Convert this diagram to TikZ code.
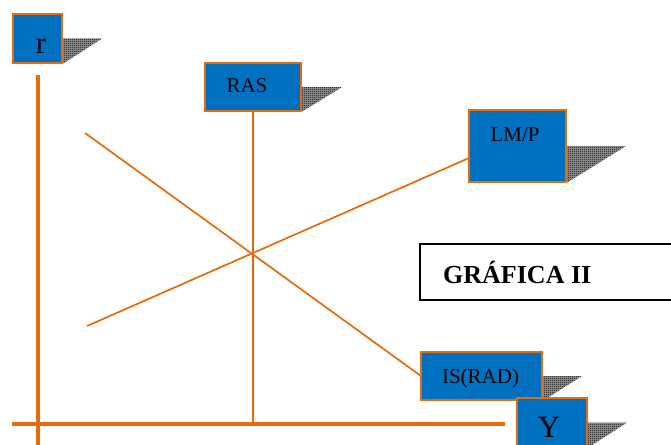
\documentclass[tikz,border=0pt]{standalone}
\usepackage{fontspec}
\setmainfont{Liberation Serif}
\usetikzlibrary{patterns,calc}

% fine two-pixel checkerboard used for the box shadows
\pgfdeclarepatternformonly{tinycheck}{\pgfpointorigin}{\pgfpoint{2pt}{2pt}}{\pgfpoint{2pt}{2pt}}{%
  \pgfpathrectangle{\pgfpointorigin}{\pgfpoint{1pt}{1pt}}%
  \pgfpathrectangle{\pgfpoint{1pt}{1pt}}{\pgfpoint{1pt}{1pt}}%
  \pgfusepath{fill}}

\definecolor{curveorange}{RGB}{228,108,10}
\definecolor{boxblue}{RGB}{0,112,192}

\tikzset{
  axisline/.style={draw=curveorange, line width=3.6pt},
  curve/.style={draw=curveorange, line width=1.7pt},
  bluebox/.style={draw=curveorange, line width=1.6pt, fill=boxblue,
    inner sep=0pt, outer sep=0pt, font=\fontsize{21}{21}\selectfont},
  bigletter/.style={font=\fontsize{31}{31}\selectfont},
  boxshadow/.style={pattern=tinycheck, pattern color=black},
  titlebox/.style={draw=black, line width=1.3pt, fill=white, inner sep=0pt,
    outer sep=0pt, font=\bfseries\fontsize{26}{26}\selectfont},
}

\begin{document}
\begin{tikzpicture}[x=1pt, y=-1pt]
\useasboundingbox (0,0) rectangle (671,444);

% axes
\coordinate (ytop) at (38,75);
\coordinate (ybot) at (38,446);
\coordinate (xleft) at (12,424);
\coordinate (xright) at (505,424);
\draw[axisline] (ytop) -- (ybot);
\draw[axisline] (xleft) -- (xright);

% curve labels (boxes with shadows)
\node[bluebox, minimum width=49pt, minimum height=49pt] (r) at (37.5,38.5) {};
\node[bluebox, minimum width=96pt, minimum height=48pt] (ras) at (253,87) {};
\node[bluebox, minimum width=97pt, minimum height=72pt] (lm) at (517.5,146) {};
\node[bluebox, minimum width=121pt, minimum height=48pt] (is) at (481.5,376) {};
\node[bluebox, minimum width=70pt, minimum height=49pt] (y) at (552,422.5) {};

% free ends of the two curves
\coordinate (isstart) at (85,133);
\coordinate (lmstart) at (87,326);
\coordinate (lmend) at ([yshift=-12pt]lm.west);

\draw[curve] (isstart) -- (is.west);
\draw[curve] (lmstart) -- (lmend);
\draw[curve] (ras.south) -- (ras.south |- xleft);

% shadows
\foreach \b/\w in {r/40, ras/41, lm/60, is/40, y/40}{
  \fill[black!40] (\b.east) -- ++(\w,0) -- ([xshift=2pt]\b.south east) -- (\b.south east) -- cycle;
  \fill[boxshadow] (\b.east) -- ++(\w,0) -- ([xshift=2pt]\b.south east) -- (\b.south east) -- cycle;
}

% boxes redrawn over their shadows, with text
\node[bluebox, minimum width=49pt, minimum height=49pt] at (r) {};
\node[bigletter, anchor=base] (rtext) at (41,53) {r};
\node[bluebox, minimum width=96pt, minimum height=48pt] at (ras) {};
\node[anchor=base, font=\fontsize{21}{21}\selectfont] (rastext) at (247,92) {RAS};
\node[bluebox, minimum width=97pt, minimum height=72pt] at (lm) {};
\node[anchor=base, font=\fontsize{21}{21}\selectfont] (lmtext) at (515,141) {LM/P};
\node[bluebox, minimum width=121pt, minimum height=48pt] at (is) {};
\node[anchor=base, font=\fontsize{21}{21}\selectfont] (istext) at (480.5,383) {IS(RAD)};
\node[bluebox, minimum width=70pt, minimum height=49pt] at (y) {};
\node[bigletter, anchor=base] (ytext) at (549,437) {Y};

% title
\node[titlebox, minimum width=252pt, minimum height=56pt] (title) at (546,272) {};
\node[anchor=base west, font=\bfseries\fontsize{26}{26}\selectfont, inner sep=0pt] (titletext) at (443,283) {GRÁFICA II};
\end{tikzpicture}
\end{document}
